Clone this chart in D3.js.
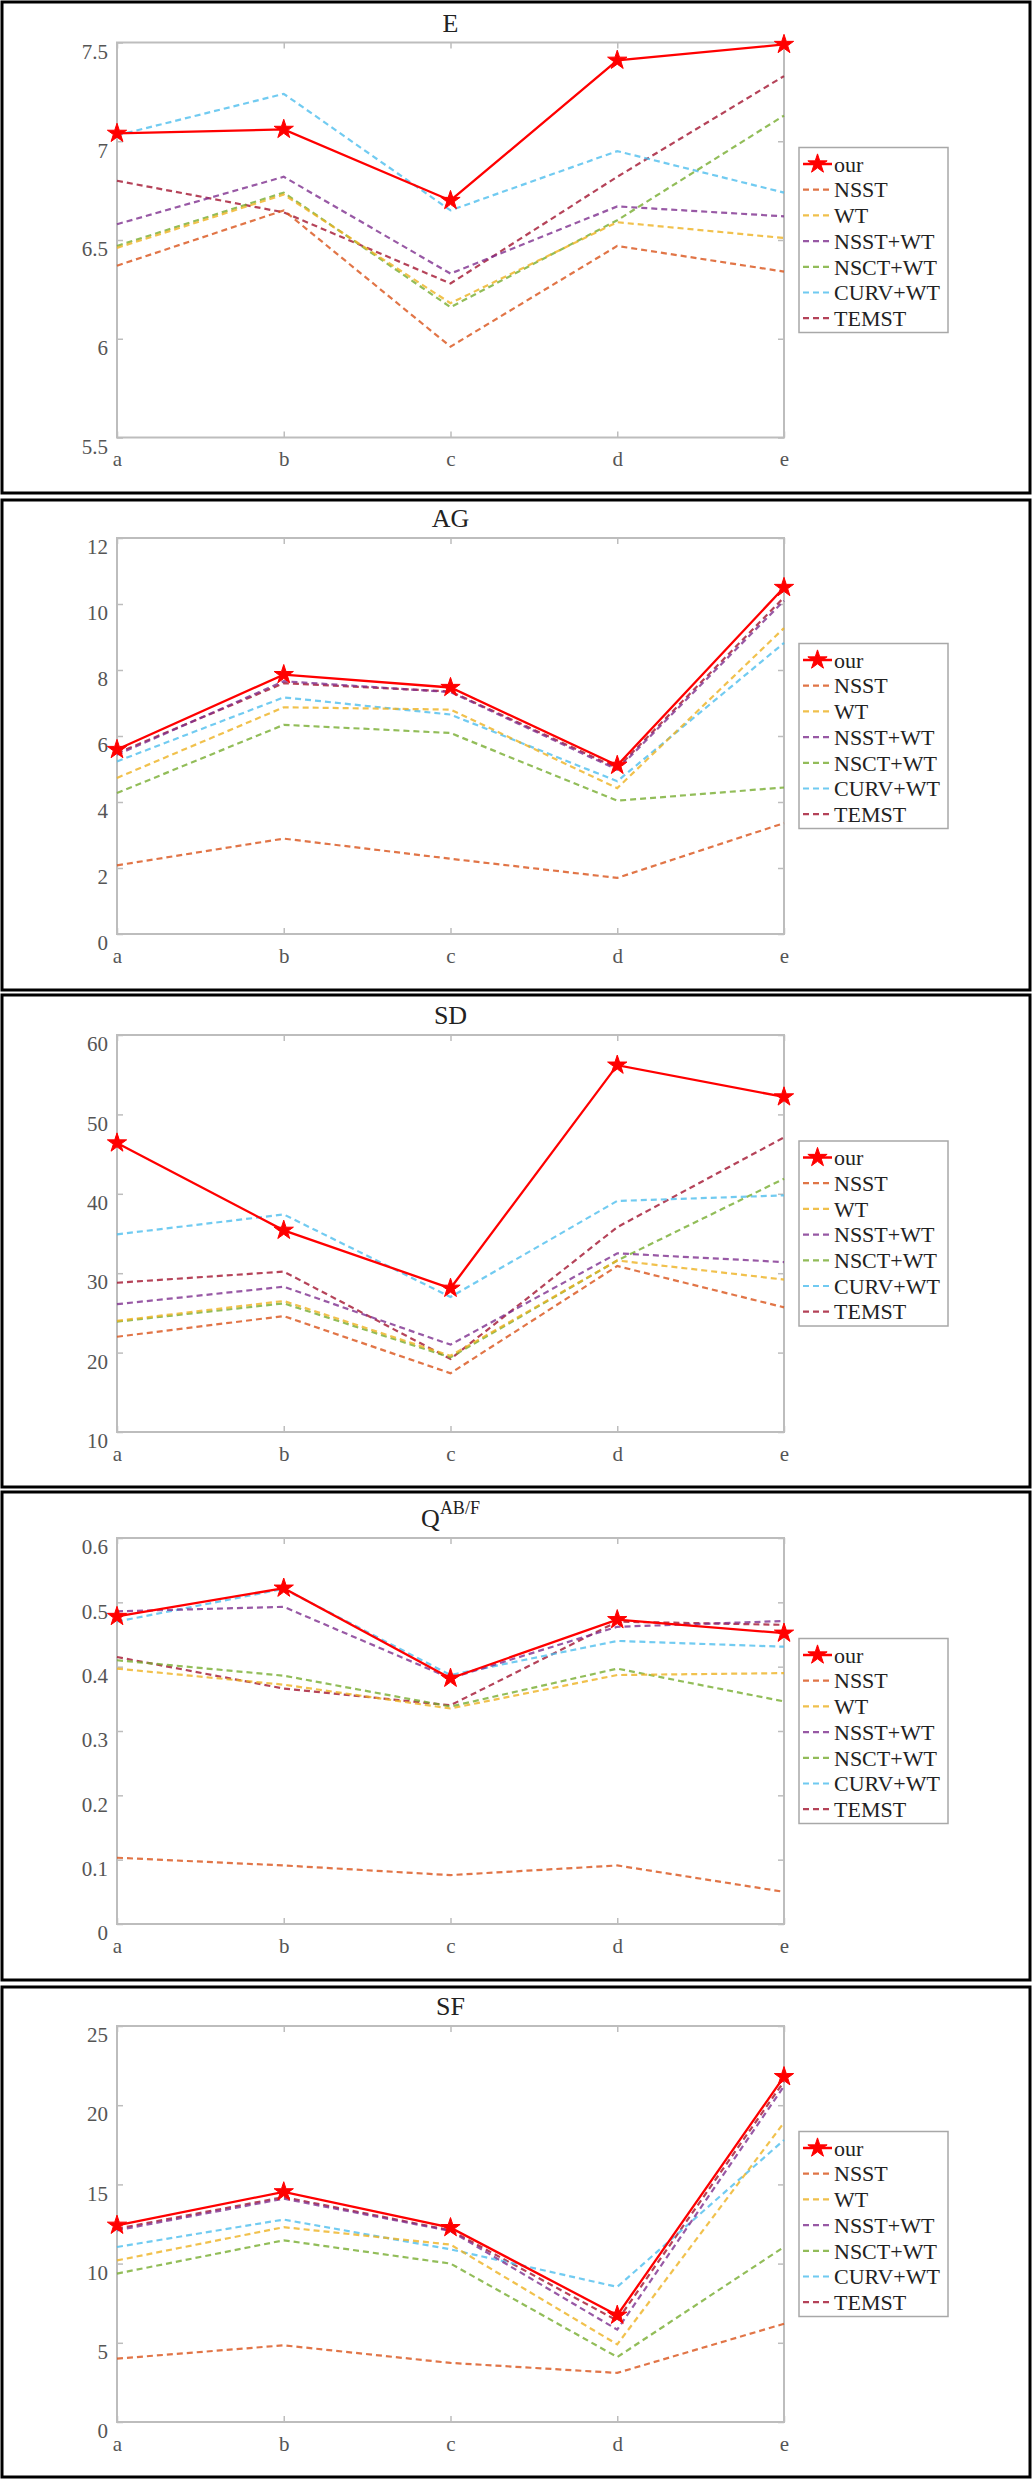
<!DOCTYPE html>
<html><head><meta charset="utf-8">
<script src="https://cdn.jsdelivr.net/npm/d3@7"></script>
<style>body{margin:0;background:#fff} svg{display:block}</style>
</head><body><svg id="c" width="1035" height="2481"></svg>
<script>
// ---------- data ----------
const categories = ["a", "b", "c", "d", "e"];
const methods = ["our", "NSST", "WT", "NSST+WT", "NSCT+WT", "CURV+WT", "TEMST"];

// rows follow the order of `methods`
const E_values = [
  [7.04, 7.06, 6.70, 7.41, 7.49],
  [6.37, 6.65, 5.96, 6.47, 6.34],
  [6.46, 6.73, 6.18, 6.59, 6.51],
  [6.58, 6.82, 6.33, 6.67, 6.62],
  [6.47, 6.74, 6.16, 6.60, 7.13],
  [7.03, 7.24, 6.65, 6.95, 6.74],
  [6.80, 6.64, 6.28, 6.82, 7.33]
];
const AG_values = [
  [5.59, 7.86, 7.47, 5.11, 10.5],
  [2.08, 2.89, 2.28, 1.70, 3.36],
  [4.73, 6.87, 6.80, 4.42, 9.27],
  [5.43, 7.66, 7.33, 4.98, 10.1],
  [4.27, 6.34, 6.09, 4.04, 4.44],
  [5.23, 7.17, 6.65, 4.63, 8.82],
  [5.48, 7.60, 7.35, 5.03, 10.2]
];
const SD_values = [
  [46.4, 35.4, 28.1, 56.2, 52.2],
  [22.0, 24.6, 17.4, 30.9, 25.7],
  [24.0, 26.5, 19.6, 31.6, 29.2],
  [26.1, 28.3, 21.0, 32.5, 31.4],
  [23.9, 26.2, 19.4, 31.6, 41.9],
  [34.9, 37.4, 27.0, 39.1, 39.8],
  [28.8, 30.2, 19.2, 35.8, 47.1]
];
const Q_values = [
  [0.478, 0.522, 0.382, 0.473, 0.452],
  [0.103, 0.091, 0.076, 0.091, 0.050],
  [0.397, 0.372, 0.335, 0.387, 0.390],
  [0.486, 0.493, 0.382, 0.462, 0.471],
  [0.410, 0.386, 0.338, 0.397, 0.346],
  [0.470, 0.521, 0.387, 0.440, 0.431],
  [0.415, 0.366, 0.340, 0.470, 0.465]
];
const SF_values = [
  [12.42, 14.53, 12.27, 6.74, 21.8],
  [4.00, 4.84, 3.73, 3.10, 6.20],
  [10.2, 12.3, 11.2, 4.90, 18.9],
  [12.1, 14.1, 12.06, 5.83, 21.2],
  [9.37, 11.47, 10.0, 4.10, 11.05],
  [11.05, 12.78, 10.9, 8.53, 17.8],
  [12.2, 14.2, 12.1, 6.40, 21.5]
];

const E_ticks = [5.5, 6, 6.5, 7, 7.5];
const AG_ticks = [0, 2, 4, 6, 8, 10, 12];
const SD_ticks = [10, 20, 30, 40, 50, 60];
const Q_ticks = [0, 0.1, 0.2, 0.3, 0.4, 0.5, 0.6];
const SF_ticks = [0, 5, 10, 15, 20, 25];

// ---------- styles / layout ----------
const colors = ["#ff0000", "#D95319", "#EDB120", "#7E2F8E", "#77AC30", "#4DBEEE", "#A2142F"];
const FONT = "Liberation Serif, Times New Roman, serif";
const axLeft = 117, axRight = 784;

const panels = [
  {title: "E",  values: E_values,  ticks: E_ticks,  boxTop: 2,    boxBottom: 493,  axTop: 42.5, axBottom: 437.5},
  {title: "AG", values: AG_values, ticks: AG_ticks, boxTop: 500,  boxBottom: 990,  axTop: 538,  axBottom: 934},
  {title: "SD", values: SD_values, ticks: SD_ticks, boxTop: 995,  boxBottom: 1487, axTop: 1035, axBottom: 1432},
  {title: "Q",  sup: "AB/F", values: Q_values, ticks: Q_ticks, boxTop: 1492, boxBottom: 1980, axTop: 1538, axBottom: 1924},
  {title: "SF", values: SF_values, ticks: SF_ticks, boxTop: 1987, boxBottom: 2477, axTop: 2026, axBottom: 2422}
];

const svg = d3.select("#c");
svg.append("rect").attr("width", 1035).attr("height", 2481).attr("fill", "#fff");

const x = d3.scalePoint().domain(categories).range([axLeft, axRight]);
const star = d3.symbol().type(d3.symbolStar).size(115);

panels.forEach(p => {
  const g = svg.append("g");
  // outer frame
  g.append("rect").attr("x", 2).attr("y", p.boxTop).attr("width", 1028)
    .attr("height", p.boxBottom - p.boxTop).attr("fill", "none")
    .attr("stroke", "#000").attr("stroke-width", 3);

  const y = d3.scaleLinear().domain(d3.extent(p.ticks)).range([p.axBottom, p.axTop]);

  // axes box
  g.append("rect").attr("x", axLeft).attr("y", p.axTop)
    .attr("width", axRight - axLeft).attr("height", p.axBottom - p.axTop)
    .attr("fill", "none").attr("stroke", "#bdbdbd").attr("stroke-width", 2);

  const yl = d3.axisLeft(y).tickValues(p.ticks).tickSize(-6).tickPadding(9)
    .tickFormat(d3.format("~g"));
  const ga = g.append("g").attr("transform", `translate(${axLeft},0)`).call(yl);
  const yr = d3.axisRight(y).tickValues(p.ticks).tickSize(-6).tickFormat("");
  const gr = g.append("g").attr("transform", `translate(${axRight},0)`).call(yr);
  const xb = d3.axisBottom(x).tickSize(-6).tickPadding(14);
  const gb = g.append("g").attr("transform", `translate(0,${p.axBottom})`).call(xb);
  const xt = d3.axisTop(x).tickSize(-6).tickFormat("");
  const gt = g.append("g").attr("transform", `translate(0,${p.axTop})`).call(xt);
  [ga, gr, gb, gt].forEach(a => {
    a.attr("font-family", FONT).attr("font-size", 21);
    a.select(".domain").remove();
    a.selectAll(".tick line").attr("stroke", "#bdbdbd").attr("stroke-width", 1.5);
    a.selectAll(".tick text").attr("fill", "#555");
  });
  ga.selectAll(".tick text").attr("dy", "0.75em");
  gb.selectAll(".tick text").attr("dy", "0.71em");

  // title
  const t = g.append("text").attr("x", (axLeft + axRight) / 2).attr("y", p.axTop - 11)
    .attr("text-anchor", "middle").attr("font-family", FONT).attr("font-size", 26)
    .attr("fill", "#222").text(p.title);
  if (p.sup) {
    t.append("tspan").attr("dy", -13).attr("font-size", 18).text(p.sup);
  }

  // series
  const line = d3.line().x((d, i) => x(categories[i])).y(d => y(d));
  for (let s = methods.length - 1; s >= 1; s--) {
    g.append("path").datum(p.values[s]).attr("d", line).attr("fill", "none")
      .attr("stroke", colors[s]).attr("stroke-width", 2.2)
      .attr("stroke-dasharray", "6,4").attr("opacity", 0.8);
  }
  g.append("path").datum(p.values[0]).attr("d", line).attr("fill", "none")
    .attr("stroke", colors[0]).attr("stroke-width", 2.3);
  g.selectAll(".star").data(p.values[0]).join("path")
    .attr("transform", (d, i) => `translate(${x(categories[i])},${y(d)})`)
    .attr("d", star).attr("fill", colors[0]).attr("stroke", colors[0]).attr("stroke-width", 1);

  // legend
  const lh = 185, lw = 149;
  const ly = (p.axTop + p.axBottom) / 2 - lh / 2;
  const lg = g.append("g").attr("transform", `translate(799,${ly})`);
  lg.append("rect").attr("width", lw).attr("height", lh).attr("fill", "#fff")
    .attr("stroke", "#a8a8a8").attr("stroke-width", 1.5);
  methods.forEach((m, i) => {
    const ry = 16.5 + i * 25.7;
    const row = lg.append("g").attr("transform", `translate(0,${ry})`);
    row.append("line").attr("x1", 4).attr("x2", 33).attr("y1", 0).attr("y2", 0)
      .attr("stroke", colors[i]).attr("stroke-width", i === 0 ? 2.5 : 2.2)
      .attr("stroke-dasharray", i === 0 ? null : "6,4").attr("opacity", i === 0 ? 1 : 0.8);
    if (i === 0) {
      row.append("path").attr("transform", "translate(18.5,0)").attr("d", star)
        .attr("fill", colors[0]).attr("stroke", colors[0]);
    }
    row.append("text").attr("x", 35).attr("y", 0).attr("dy", "0.35em")
      .attr("font-family", FONT).attr("font-size", 22).attr("fill", "#222").text(m);
  });
});
</script>
</body></html>
